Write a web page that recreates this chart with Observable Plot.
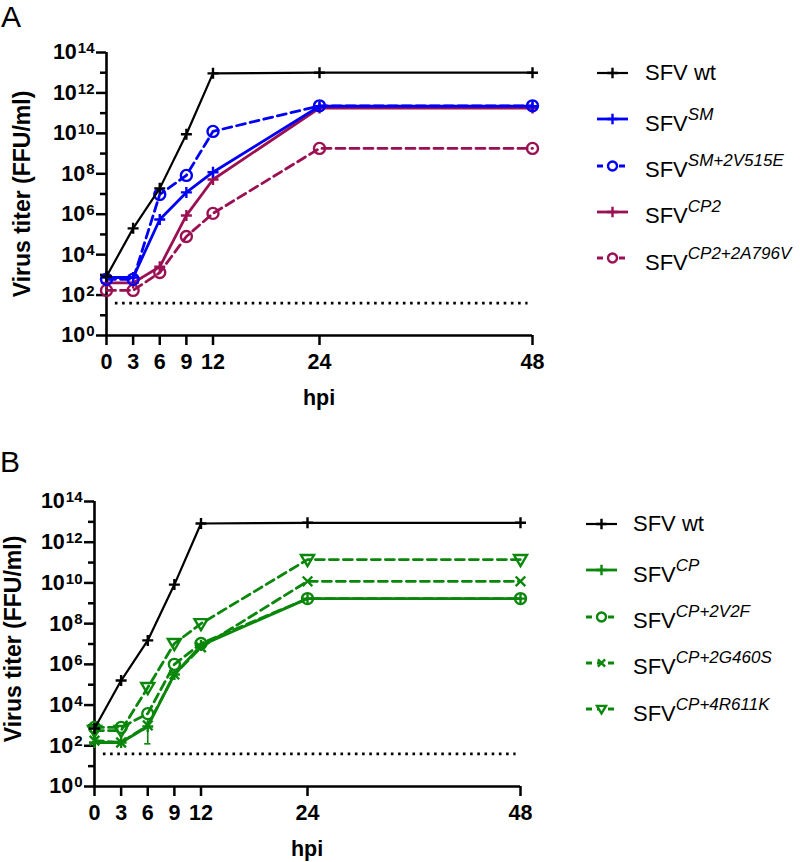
<!DOCTYPE html>
<html><head><meta charset="utf-8">
<script src="https://cdn.jsdelivr.net/npm/d3@7"></script>
<script src="https://cdn.jsdelivr.net/npm/@observablehq/plot@0.6"></script>
<style>
body{margin:0;background:#fff;font-family:"Liberation Sans",Arial,sans-serif;}
#fig{position:relative;width:800px;height:862px;overflow:hidden;background:#fff;}
.panel{position:absolute;left:0;}
.letter{position:absolute;font-size:30px;line-height:30px;color:#000;}
.lsample{position:absolute;}
.ltext{position:absolute;font-size:22px;line-height:20px;white-space:nowrap;color:#000;}
.ltext .sup{font-style:italic;font-size:17px;position:relative;top:-11px;}
</style></head>
<body><div id="fig"></div>
<script>
// ---------- data ----------
const hpi = [0, 3, 6, 9, 12, 24, 48];
const xTicks = [0, 3, 6, 9, 12, 24, 48];
const yMajor = [1, 1e2, 1e4, 1e6, 1e8, 1e10, 1e12, 1e14];
const yMinor = [1e1, 1e3, 1e5, 1e7, 1e9, 1e11, 1e13];
const lod = [{titer: 40, from: 1, to: 47.5}];

// Panel A (FFU/ml)
const aNames = ["wt", "SM", "SM+2V515E", "CP2", "CP2+2A796V"];
const aWt        = [830, 2.0e5, 1.9e7, 9.0e9, 9.3e12, 1.0e13, 1.0e13];
const aSM        = [740, 740, 5.5e5, 1.2e7, 1.2e8, 2.2e11, 2.2e11];
const aSM2V515E  = [600, 600, 9.5e6, 8.3e7, 1.25e10, 2.3e11, 2.3e11];
const aCP2       = [400, 400, 2.5e3, 8.7e5, 5.2e7, 1.8e11, 1.8e11];
const aCP22A796V = [170, 170, 1.3e3, 7.9e4, 1.1e6, 1.8e9, 1.8e9];

// Panel B (FFU/ml)
const bNames = ["wt", "CP", "CP+2V2F", "CP+2G460S", "CP+4R611K"];
const bWt        = [710, 1.6e5, 1.5e7, 8.3e9, 8.3e12, 9.0e12, 9.0e12];
const bCP        = [145, 145, 890, 3.2e5, 8.5e6, 1.7e9, 1.7e9];
const bCP2V2F    = [800, 800, 3.8e3, 1.0e6, 1.05e7, 1.7e9, 1.7e9];
const bCP2G460S  = [180, 145, 1.0e3, 3.2e5, 6.8e6, 1.2e10, 1.2e10];
const bCP4R611K  = [560, 560, 7.2e4, 1.05e7, 1.0e8, 1.4e11, 1.4e11];
// error bar (SFV CP, 6 hpi)
const bErrors = [{series: "CP", hpi: 6, low: 125, high: 2.2e3}];

// ---------- styles ----------
const BLUE = "#0000f5", MAG = "#9b1052", GREEN = "#0a870a";
const sym = {
  plus: {draw(c, s) { const r = Math.sqrt(s / Math.PI); c.moveTo(-r, 0); c.lineTo(r, 0); c.moveTo(0, -r); c.lineTo(0, r); }},
  circle: {draw(c, s) { const r = Math.sqrt(s / Math.PI); c.moveTo(r, 0); c.arc(0, 0, r, 0, 2 * Math.PI); }},
  times: {draw(c, s) { const r = Math.sqrt(s / Math.PI) * 0.8; c.moveTo(-r, -r); c.lineTo(r, r); c.moveTo(-r, r); c.lineTo(r, -r); }},
  triDown: {draw(c, s) { const r = Math.sqrt(s / Math.PI); c.moveTo(-r, -r * 0.7); c.lineTo(r, -r * 0.7); c.lineTo(0, r); c.closePath(); }}
};
const styleA = {
  "wt":          {color: "#000", dash: null, marker: "plus", width: 2.2, r: 5.5},
  "SM":          {color: BLUE, dash: null, marker: "plus", width: 2.8, r: 5.5},
  "SM+2V515E":   {color: BLUE, dash: "9,5", marker: "circle", width: 2.8, r: 5.5},
  "CP2":         {color: MAG, dash: null, marker: "plus", width: 2.8, r: 5.5},
  "CP2+2A796V":  {color: MAG, dash: "9,5", marker: "circle", width: 2.8, r: 5.5}
};
const styleB = {
  "wt":          {color: "#000", dash: null, marker: "plus", width: 2.2, r: 5.5},
  "CP":          {color: GREEN, dash: null, marker: "plus", width: 2.8, r: 5.5},
  "CP+2V2F":     {color: GREEN, dash: "9,5", marker: "circle", width: 2.8, r: 5.5},
  "CP+2G460S":   {color: GREEN, dash: "9,5", marker: "times", width: 2.8, r: 6},
  "CP+4R611K":   {color: GREEN, dash: "9,5", marker: "triDown", width: 2.8, r: 6.5}
};

function rowsOf(names, arrays) {
  const out = [];
  names.forEach((n, k) => arrays[k].forEach((v, i) => out.push({series: n, hpi: hpi[i], titer: v})));
  return out;
}

function makePanel({names, arrays, styles, height, mLeft, mRight, mTop, mBottom, errors}) {
  const rows = rowsOf(names, arrays);
  const marks = [
    Plot.ruleY(lod, {y: "titer", x1: "from", x2: "to", stroke: "#000", strokeWidth: 2.6, strokeDasharray: "2.6,4.6"}),
    Plot.axisY({ticks: yMinor, tickSize: 6, tickFormat: () => "", label: null, strokeWidth: 2.5}),
    Plot.axisY({ticks: yMajor, tickSize: 10, tickPadding: 2, strokeWidth: 2.5,
      tickFormat: d => String(Math.round(Math.log10(d))),
      label: "Virus titer (FFU/ml)", labelAnchor: "center", labelOffset: 90}),
    Plot.axisX({ticks: xTicks, tickSize: 10, tickPadding: 8, strokeWidth: 2.5,
      tickFormat: d => String(d), label: "hpi", labelAnchor: "center", labelOffset: 70}),
    Plot.ruleX([0], {y1: 1, y2: 1e14, strokeWidth: 2.6}),
    Plot.ruleY([1], {x1: 0, x2: 48, strokeWidth: 2.6})
  ];
  if (errors) {
    errors.forEach(e => {
      const st = styles[e.series];
      marks.push(Plot.ruleX([e], {x: "hpi", y1: "low", y2: "high", stroke: st.color, strokeWidth: 1.6}));
      marks.push(Plot.ruleY([e], {y: "low", x1: d => d.hpi - 0.35, x2: d => d.hpi + 0.35, stroke: st.color, strokeWidth: 1.6}));
    });
  }
  [...names].reverse().forEach(n => {
    const st = styles[n];
    const data = rows.filter(d => d.series === n);
    marks.push(Plot.line(data, {x: "hpi", y: "titer", stroke: st.color, strokeWidth: st.width,
      strokeDasharray: st.dash || undefined}));
    marks.push(Plot.dot(data, {x: "hpi", y: "titer", symbol: sym[st.marker], r: st.r,
      fill: "none", stroke: st.color, strokeWidth: 2.4}));
  });
  const svg = Plot.plot({
    width: 800, height,
    marginLeft: mLeft, marginRight: mRight, marginTop: mTop, marginBottom: mBottom,
    x: {domain: [0, 48]},
    y: {type: "log", domain: [1, 1e14]},
    style: {fontFamily: "'Liberation Sans', Arial, sans-serif", fontWeight: "bold", fontSize: "21px", color: "#000", background: "transparent", overflow: "visible"},
    marks
  });
  const S = d3.select(svg);
  S.selectAll('g[aria-label="y-axis tick label"] text, g[aria-label="x-axis tick label"] text')
    .attr("font-size", null).style("font-size", "21.5px").style("font-weight", "bold");
  // superscript exponents on y tick labels
  S.selectAll('g[aria-label="y-axis tick label"] text').each(function() {
    const t = d3.select(this);
    const e = t.text();
    if (!e) return;
    t.text("");
    t.append("tspan").text("10");
    t.append("tspan").attr("dy", "-0.42em").attr("dx", "1").style("font-size", "15px").text(e);
  });
  S.selectAll('g[aria-label="y-axis label"] text').attr("font-size", null).style("font-size", "23px").style("font-weight", "bold");
  S.selectAll('g[aria-label="x-axis label"] text').attr("font-size", null).style("font-size", "21.5px").style("font-weight", "bold");
  S.selectAll('g[aria-label="y-axis label"] text, g[aria-label="x-axis label"] text').each(function() {
    const t = d3.select(this);
    t.selectAll("tspan").each(function() {
      const ts = d3.select(this);
      ts.text(ts.text().replace(/[↑→←↓]/g, "").trim());
    });
    if (t.selectAll("tspan").empty()) t.text(t.text().replace(/[↑→←↓]/g, "").trim());
  });
  return svg;
}

// move an axis label group so the label's box centre lands at (cx, cy) in svg coordinates
function centreLabel(svg, aria, cx, cy) {
  const g = svg.querySelector(`g[aria-label="${aria}"]`);
  if (!g) return;
  const sr = svg.getBoundingClientRect();
  const r = g.getBoundingClientRect();
  const dx = cx - (r.left - sr.left + r.width / 2);
  const dy = cy - (r.top - sr.top + r.height / 2);
  const old = g.getAttribute("transform") || "";
  g.setAttribute("transform", `translate(${dx},${dy}) ${old}`);
}

const fig = document.getElementById("fig");

function addPanel(top, svg) {
  const div = document.createElement("div");
  div.className = "panel"; div.style.top = top + "px";
  div.appendChild(svg); fig.appendChild(div);
}

const svgA = makePanel({names: aNames, arrays: [aWt, aSM, aSM2V515E, aCP2, aCP22A796V], styles: styleA,
  height: 420, mLeft: 106, mRight: 268, mTop: 52, mBottom: 85});
const svgB = makePanel({names: bNames, arrays: [bWt, bCP, bCP2V2F, bCP2G460S, bCP4R611K], styles: styleB,
  height: 442, mLeft: 94, mRight: 280, mTop: 81, mBottom: 76, errors: bErrors});
addPanel(0, svgA);
addPanel(420, svgB);
centreLabel(svgA, "y-axis label", 22, 194);
centreLabel(svgA, "x-axis label", 319, 398);
centreLabel(svgB, "y-axis label", 13, 219);
centreLabel(svgB, "x-axis label", 307, 429);

function addLetter(txt, left, top) {
  const d = document.createElement("div");
  d.className = "letter"; d.textContent = txt; d.style.left = left + "px"; d.style.top = top + "px";
  fig.appendChild(d);
}
addLetter("A", 1, 2);
addLetter("B", 0, 447);

function addLegend(names, styles, sx, tx, y0, dy) {
  names.forEach((n, i) => {
    const st = styles[n];
    const y = y0 + i * dy;
    const s = d3.create("svg").attr("class", "lsample").attr("width", 34).attr("height", 20)
      .style("left", sx + "px").style("top", (y - 10) + "px");
    s.append("line").attr("x1", 0).attr("x2", 31).attr("y1", 10).attr("y2", 10)
      .attr("stroke", st.color).attr("stroke-width", st.width)
      .attr("stroke-dasharray", st.dash ? "6,5" : null);
    const p = d3.path();
    const rr = st.marker === "plus" ? 5.2 : 4.5;
    sym[st.marker].draw(p, Math.PI * rr * rr);
    s.append("path").attr("transform", "translate(15.5,10)").attr("d", p.toString())
      .attr("fill", "#fff").attr("stroke", st.color).attr("stroke-width", 2.4);
    fig.appendChild(s.node());
    const t = document.createElement("div");
    t.className = "ltext"; t.style.left = tx + "px";
    t.style.top = (y - 10 + (n === "wt" ? 0 : 4.5)) + "px";
    if (n === "wt") t.textContent = "SFV wt";
    else t.innerHTML = 'SFV<span class="sup"></span>';
    if (n !== "wt") t.querySelector(".sup").textContent = n;
    fig.appendChild(t);
  });
}
addLegend(aNames, styleA, 597, 645, 73, 46.3);
addLegend(bNames, styleB, 586, 633, 524, 46.3);
</script>
</body></html>
